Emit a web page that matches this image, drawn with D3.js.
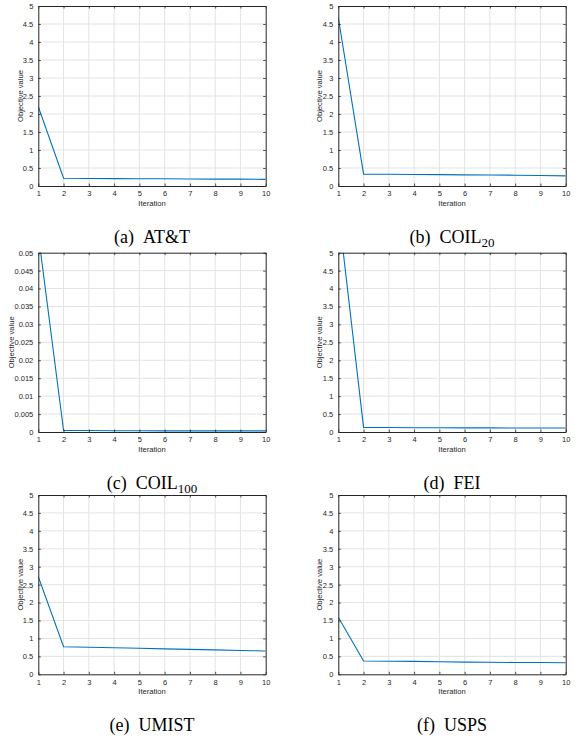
<!DOCTYPE html>
<html>
<head>
<meta charset="utf-8">
<script src="https://cdn.jsdelivr.net/npm/d3@7"></script>
<style>
  body { margin: 0; background: #fff; }
  svg text { font-family: "Liberation Sans", Arial, sans-serif; }
  .caption { font-family: "Liberation Serif", "Times New Roman", serif; }
</style>
</head>
<body>
<div id="fig"></div>
<script type="text/javascript">
  const width = 576,
    height = 737;

  // data
  const iterations = [1, 2, 3, 4, 5, 6, 7, 8, 9, 10];
  const attValues = [2.2, 0.215, 0.21, 0.205, 0.2, 0.2, 0.195, 0.19, 0.19, 0.185];
  const coil20Values = [4.68, 0.33, 0.325, 0.32, 0.315, 0.31, 0.305, 0.3, 0.29, 0.28];
  const coil100Values = [0.0552, 0.0004, 0.0004, 0.00035, 0.00035, 0.0003, 0.0003, 0.0003, 0.0003, 0.0003];
  const feiValues = [6.2, 0.13, 0.125, 0.12, 0.12, 0.115, 0.115, 0.11, 0.11, 0.11];
  const umistValues = [2.72, 0.77, 0.755, 0.74, 0.725, 0.71, 0.695, 0.68, 0.665, 0.65];
  const uspsValues = [1.59, 0.37, 0.365, 0.36, 0.35, 0.34, 0.335, 0.33, 0.33, 0.32];

  const yTicksBig = [0, 0.5, 1, 1.5, 2, 2.5, 3, 3.5, 4, 4.5, 5];
  const yTicksSmall = [0, 0.005, 0.01, 0.015, 0.02, 0.025, 0.03, 0.035, 0.04, 0.045, 0.05];

  const captionLabels = ["(a)", "(b)", "(c)", "(d)", "(e)", "(f)"];
  const captionNames = ["AT&T", "COIL", "COIL", "FEI", "UMIST", "USPS"];
  const captionSubs = ["", "20", "100", "", "", ""];

  const panels = [
    { values: attValues, yMax: 5, ticks: yTicksBig, left: 38.3, top: 6, bottom: 186, labelX: 20 },
    { values: coil20Values, yMax: 5, ticks: yTicksBig, left: 338.3, top: 6, bottom: 186, labelX: 319.5 },
    { values: coil100Values, yMax: 0.05, ticks: yTicksSmall, left: 38.3, top: 252.7, bottom: 432, labelX: 11.7 },
    { values: feiValues, yMax: 5, ticks: yTicksBig, left: 338.3, top: 252.7, bottom: 432, labelX: 319.5 },
    { values: umistValues, yMax: 5, ticks: yTicksBig, left: 38.3, top: 495, bottom: 674.3, labelX: 20 },
    { values: uspsValues, yMax: 5, ticks: yTicksBig, left: 338.3, top: 495, bottom: 674.3, labelX: 319.5 }
  ];
  const plotW = 227.4;
  const axisColor = "#262626",
    gridColor = "#e3e3e3",
    lineColor = "#0072BD";

  const svg = d3.select("#fig").append("svg")
    .attr("width", width)
    .attr("height", height);

  panels.forEach(function(p, i) {
    const x = d3.scaleLinear().domain([1, 10]).range([p.left, p.left + plotW]);
    const y = d3.scaleLinear().domain([0, p.yMax]).range([p.bottom, p.top]);
    const g = svg.append("g");

    // grid
    g.selectAll(".vgrid").data(iterations.slice(1, -1)).enter().append("line")
      .attr("x1", d => x(d)).attr("x2", d => x(d))
      .attr("y1", p.top).attr("y2", p.bottom)
      .style("stroke", gridColor).style("stroke-width", "1px");
    g.selectAll(".hgrid").data(p.ticks.slice(1, -1)).enter().append("line")
      .attr("x1", p.left).attr("x2", p.left + plotW)
      .attr("y1", d => y(d)).attr("y2", d => y(d))
      .style("stroke", gridColor).style("stroke-width", "1px");

    // data line (clipped to the axes box)
    const clipId = "clip" + i;
    svg.append("clipPath").attr("id", clipId).append("rect")
      .attr("x", p.left).attr("y", p.top)
      .attr("width", plotW).attr("height", p.bottom - p.top);
    const line = d3.line().x((d, j) => x(iterations[j])).y(d => y(d));
    g.append("path")
      .datum(p.values)
      .attr("d", line)
      .attr("clip-path", "url(#" + clipId + ")")
      .style("fill", "none")
      .style("stroke", lineColor)
      .style("stroke-width", "1.1px");

    // axes, MATLAB style: box with inward ticks on all sides
    const tickLen = 2.5;
    const bottomAxis = d3.axisBottom(x).tickValues(iterations).tickSizeInner(-tickLen).tickSizeOuter(0).tickPadding(5);
    const topAxis = d3.axisTop(x).tickValues(iterations).tickSizeInner(-tickLen).tickSizeOuter(0).tickFormat("");
    const leftAxis = d3.axisLeft(y).tickValues(p.ticks).tickSizeInner(-tickLen).tickSizeOuter(0).tickPadding(5).tickFormat(d3.format("~g"));
    const rightAxis = d3.axisRight(y).tickValues(p.ticks).tickSizeInner(-tickLen).tickSizeOuter(0).tickFormat("");

    [[bottomAxis, "translate(0," + p.bottom + ")"],
     [topAxis, "translate(0," + p.top + ")"],
     [leftAxis, "translate(" + p.left + ",0)"],
     [rightAxis, "translate(" + (p.left + plotW) + ",0)"]].forEach(function(a) {
      const ag = g.append("g").attr("transform", a[1]).call(a[0]);
      ag.select(".domain").style("stroke", axisColor).style("stroke-width", "1px");
      ag.selectAll(".tick line").style("stroke", axisColor).style("stroke-width", "0.8px");
      ag.selectAll("text").style("fill", axisColor).style("font-size", "7.5px")
        .style("font-family", "'Liberation Sans', Arial, sans-serif");
    });

    // axis labels
    g.append("text")
      .attr("x", p.left + plotW / 2)
      .attr("y", p.bottom + 20)
      .attr("text-anchor", "middle")
      .style("font-size", "7.6px")
      .style("fill", axisColor)
      .text("Iteration");
    g.append("text")
      .attr("transform", "translate(" + p.labelX + "," + ((p.top + p.bottom) / 2) + ") rotate(-90)")
      .attr("text-anchor", "middle")
      .attr("dy", "0.35em")
      .style("font-size", "7.6px")
      .style("fill", axisColor)
      .text("Objective value");

    // caption
    const cap = g.append("text")
      .attr("class", "caption")
      .attr("x", p.left + plotW / 2)
      .attr("y", p.bottom + 57)
      .attr("text-anchor", "middle")
      .style("font-size", "18px")
      .style("fill", "#000");
    cap.append("tspan").text(captionLabels[i] + "\u00a0\u00a0" + captionNames[i]);
    if (captionSubs[i]) {
      cap.append("tspan").attr("dy", "4").style("font-size", "13px").text(captionSubs[i]);
    }
  });
</script>
</body>
</html>
